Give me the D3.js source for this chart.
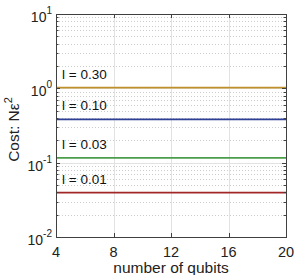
<!DOCTYPE html>
<html>
<head>
<meta charset="utf-8">
<script src="https://cdn.jsdelivr.net/npm/d3@7"></script>
<style>
  body { margin: 0; background: #fff; }
  svg { display: block; font-family: "Liberation Sans", Arial, sans-serif; }
</style>
</head>
<body>
<script>
const width = 299;
const height = 275;
const margin = { top: 14, right: 13, bottom: 38, left: 56 };

const qubits = [4, 8, 12, 16, 20];
const labels = ['l = 0.30', 'l = 0.10', 'l = 0.03', 'l = 0.01'];
const costs = [
  [1.02, 1.02, 1.02, 1.02, 1.02],
  [0.383, 0.383, 0.383, 0.383, 0.383],
  [0.116, 0.116, 0.116, 0.116, 0.116],
  [0.0395, 0.0395, 0.0395, 0.0395, 0.0395],
];
const colors = ['#c0902c', '#2f3f96', '#4a9e4a', '#a12626'];
const xTicks = [4, 8, 12, 16, 20];
const yTicks = [0.01, 0.1, 1, 10];

const x = d3.scaleLinear([4, 20], [margin.left, width - margin.right]);
const y = d3.scaleLog([0.01, 10], [height - margin.bottom, margin.top]);

const minor = [];
yTicks.slice(0, -1).forEach(t => d3.range(2, 10).forEach(k => minor.push(t * k)));

const svg = d3.select('body')
  .append('svg')
  .attr('width', width)
  .attr('height', height);

const x0 = margin.left, x1 = width - margin.right;
const y0 = height - margin.bottom, y1 = margin.top;

// minor grid (dotted)
svg.append('g')
  .selectAll('line')
  .data(minor)
  .join('line')
    .attr('x1', x0).attr('x2', x1)
    .attr('y1', d => Math.round(y(d)) + 0.5)
    .attr('y2', d => Math.round(y(d)) + 0.5)
    .attr('stroke', '#cccccc')
    .attr('stroke-dasharray', '1,2');

// major grid
svg.append('g')
  .selectAll('line')
  .data(xTicks.slice(1, -1))
  .join('line')
    .attr('x1', d => Math.round(x(d)) + 0.5)
    .attr('x2', d => Math.round(x(d)) + 0.5)
    .attr('y1', y0).attr('y2', y1)
    .attr('stroke', '#e2e2e2');

svg.append('g')
  .selectAll('line')
  .data(yTicks.slice(1, -1))
  .join('line')
    .attr('x1', x0).attr('x2', x1)
    .attr('y1', d => Math.round(y(d)) + 0.5)
    .attr('y2', d => Math.round(y(d)) + 0.5)
    .attr('stroke', '#e2e2e2');

// series
const line = d3.line()
  .x(d => x(d[0]))
  .y(d => y(d[1]));

costs.forEach((vals, i) => {
  svg.append('path')
    .datum(qubits.map((q, j) => [q, vals[j]]))
    .attr('fill', 'none')
    .attr('stroke', colors[i])
    .attr('stroke-width', 1.8)
    .attr('d', line);

  svg.append('text')
    .attr('x', x(4) + 6)
    .attr('y', y(vals[0]) - 9)
    .attr('font-size', 13.5)
    .attr('fill', '#111')
    .text(labels[i]);
});

// axes box with inward ticks
const axisColor = '#404040';
const box = svg.append('g').attr('stroke', axisColor).attr('fill', 'none');
box.append('rect')
  .attr('x', x0 + 0.5).attr('y', y1 + 0.5)
  .attr('width', x1 - x0).attr('height', y0 - y1);

xTicks.forEach(t => {
  const px = Math.round(x(t)) + 0.5;
  box.append('line').attr('x1', px).attr('x2', px).attr('y1', y0).attr('y2', y0 - 4);
  box.append('line').attr('x1', px).attr('x2', px).attr('y1', y1).attr('y2', y1 + 4);
});
yTicks.forEach(t => {
  const py = Math.round(y(t)) + 0.5;
  box.append('line').attr('x1', x0).attr('x2', x0 + 4).attr('y1', py).attr('y2', py);
  box.append('line').attr('x1', x1).attr('x2', x1 - 4).attr('y1', py).attr('y2', py);
});
minor.forEach(t => {
  const py = Math.round(y(t)) + 0.5;
  box.append('line').attr('x1', x0).attr('x2', x0 + 2.5).attr('y1', py).attr('y2', py);
  box.append('line').attr('x1', x1).attr('x2', x1 - 2.5).attr('y1', py).attr('y2', py);
});

// tick labels
svg.append('g')
  .selectAll('text')
  .data(xTicks)
  .join('text')
    .attr('x', d => x(d))
    .attr('y', y0 + 20)
    .attr('text-anchor', 'middle')
    .attr('font-size', 14.5)
    .attr('fill', '#222')
    .text(d => d);

const yl = svg.append('g')
  .selectAll('text')
  .data(yTicks)
  .join('text')
    .attr('x', x0 - 4)
    .attr('y', d => y(d) + 8)
    .attr('text-anchor', 'end')
    .attr('font-size', 14)
    .attr('fill', '#222');
yl.append('tspan').text('10');
yl.append('tspan')
  .attr('dy', -8)
  .attr('font-size', 10)
  .text(d => Math.round(Math.log10(d)));

// axis titles
svg.append('text')
  .attr('x', (x0 + x1) / 2)
  .attr('y', height - 2)
  .attr('text-anchor', 'middle')
  .attr('font-size', 15.5)
  .attr('fill', '#222')
  .text('number of qubits');

const yt = svg.append('text')
  .attr('transform', `translate(19,${(y0 + y1) / 2 + 4}) rotate(-90)`)
  .attr('text-anchor', 'middle')
  .attr('font-size', 15.5)
  .attr('fill', '#222');
yt.append('tspan').text('Cost: N\u03B5');
yt.append('tspan').attr('dy', -7).attr('font-size', 11).text('2');
</script>
</body>
</html>
